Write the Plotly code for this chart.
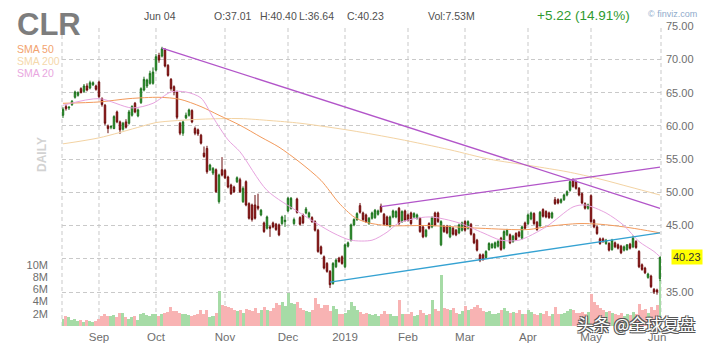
import pandas as pd
import plotly.graph_objects as go

# ---------------- data ----------------
holidays = ["2018-09-03", "2018-11-22", "2018-12-05", "2018-12-25", "2019-01-01",
            "2019-01-21", "2019-02-18", "2019-04-19", "2019-05-27"]
days = [d.strftime("%Y-%m-%d") for d in pd.bdate_range("2018-08-16", "2019-06-04")
        if d.strftime("%Y-%m-%d") not in holidays]

opens = [61.6, 62.9, 62.7, 63.2, 64.3, 64.6, 65.6, 65.2, 66.0, 65.7, 66.2, 66.0,
         66.6, 64.1, 63.1, 60.0, 59.8, 59.6, 62.1, 60.6, 59.5, 60.6, 60.4, 61.6, 63.4, 61.5,
         63.5, 65.4, 66.0, 66.4, 66.4, 68.4, 70.6, 70.5, 71.4, 69.1, 67.0, 65.9, 65.1, 60.4,
         58.9, 61.2, 61.6, 62.3, 59.6, 59.4, 58.6, 55.9, 56.6, 53.4, 52.9, 53.4, 48.6, 53.4,
         53.3, 52.3, 51.1, 50.8, 51.6, 51.9, 48.6, 51.6, 48.3, 48.1, 48.1, 47.9, 46.6, 45.4,
         44.6, 44.8, 45.4, 45.2, 45.1, 45.3, 45.6, 47.2, 47.6, 45.3, 49.0, 46.2, 46.6, 46.9,
         46.3, 46.2, 45.6, 44.3, 41.8, 40.3, 39.3, 38.1, 36.3, 38.8, 40.1, 40.3, 38.8, 41.9,
         42.8, 45.1, 45.9, 48.0, 46.9, 46.6, 45.3, 46.1, 46.2, 46.7, 47.9, 46.7, 46.3, 44.9,
         46.3, 46.3, 47.6, 45.6, 47.2, 46.6, 46.9, 46.3, 46.1, 46.1, 44.8, 43.4, 45.3, 44.8,
         46.9, 46.9, 42.1, 44.9, 44.9, 43.3, 44.6, 44.3, 43.9, 44.3, 45.6, 44.6, 45.2, 43.7,
         42.8, 40.6, 40.6, 40.2, 41.4, 41.7, 41.7, 41.9, 43.1, 41.6, 43.6, 43.6, 42.6, 43.8,
         44.0, 43.1, 45.4, 45.3, 46.0, 46.8, 45.5, 45.0, 47.4, 47.1, 46.9, 46.2, 48.9, 48.9,
         48.5, 48.9, 49.6, 50.3, 51.8, 51.6, 50.6, 49.8, 48.3, 47.6, 49.5, 45.8, 44.8, 43.0,
         43.0, 42.3, 42.3, 41.4, 42.4, 42.1, 41.9, 41.3, 41.4, 42.2, 41.8, 42.6, 41.1, 39.1,
         38.6, 37.2, 37.4, 35.4, 35.3, 37.01]
highs = [62.8, 63.2, 63.0, 63.9, 65.3, 65.2, 65.8, 66.3, 66.4, 66.8, 66.7, 66.2,
         66.8, 64.3, 63.3, 60.2, 60.1, 61.6, 62.3, 60.8, 60.6, 61.0, 62.4, 63.1, 63.6, 62.6,
         65.8, 67.4, 67.1, 68.3, 68.8, 70.8, 71.0, 71.9, 71.7, 69.3, 67.2, 66.1, 65.3, 60.6,
         60.8, 62.0, 62.6, 62.5, 59.9, 59.6, 58.8, 56.9, 57.0, 54.3, 53.8, 53.6, 52.8, 55.3,
         53.5, 52.5, 51.3, 51.0, 52.4, 52.2, 50.9, 51.8, 48.5, 48.3, 49.6, 49.8, 47.5, 45.6,
         46.5, 45.1, 45.6, 45.4, 45.3, 46.5, 46.6, 49.3, 49.3, 46.2, 49.2, 46.4, 46.8, 47.8,
         47.1, 46.4, 45.8, 44.5, 42.0, 40.5, 39.5, 38.3, 39.5, 40.0, 40.3, 40.5, 42.3, 42.6,
         45.3, 46.1, 47.0, 48.4, 47.1, 46.8, 46.3, 47.1, 47.5, 47.4, 48.3, 46.9, 46.5, 46.5,
         47.4, 47.3, 47.8, 47.3, 47.4, 46.8, 47.1, 47.0, 46.8, 46.3, 45.0, 44.5, 45.5, 46.4,
         47.1, 47.1, 45.8, 45.1, 45.1, 45.0, 44.8, 44.5, 45.3, 45.6, 45.8, 45.8, 45.4, 43.9,
         43.0, 40.8, 40.8, 41.3, 42.5, 42.4, 42.6, 42.8, 43.3, 44.3, 44.5, 43.8, 43.6, 44.0,
         44.2, 45.0, 45.6, 46.8, 47.1, 47.0, 45.7, 47.2, 47.6, 47.3, 47.1, 47.1, 49.3, 49.1,
         49.1, 49.8, 50.3, 51.8, 52.1, 51.8, 50.8, 50.0, 48.5, 48.3, 49.7, 46.0, 45.0, 43.2,
         43.2, 43.0, 42.5, 43.0, 42.6, 42.3, 42.1, 42.0, 42.2, 42.4, 43.5, 42.8, 41.3, 39.3,
         38.8, 37.9, 37.6, 35.6, 35.5, 40.40]
lows = [61.2, 62.3, 62.4, 63.0, 64.1, 64.4, 64.9, 65.0, 65.2, 65.5, 66.0, 65.3,
        64.2, 62.9, 60.1, 58.9, 59.5, 59.5, 60.4, 58.8, 59.3, 59.6, 60.2, 61.4, 61.9, 61.3,
        63.3, 65.2, 65.7, 66.2, 66.2, 68.2, 69.5, 70.3, 68.8, 67.4, 65.3, 64.6, 61.0, 58.6,
        58.5, 61.0, 61.4, 60.4, 58.6, 58.5, 57.2, 55.2, 52.8, 53.2, 52.6, 49.9, 48.3, 52.4,
        52.0, 50.6, 49.6, 49.9, 51.4, 49.9, 48.4, 47.9, 45.9, 45.6, 45.9, 47.3, 46.4, 43.9,
        44.4, 43.3, 44.6, 44.2, 43.4, 45.1, 44.8, 47.0, 47.4, 45.1, 46.8, 45.0, 45.2, 46.7,
        46.1, 45.4, 44.1, 40.9, 40.6, 38.4, 37.9, 35.6, 36.1, 38.6, 39.4, 39.1, 38.6, 41.7,
        42.6, 44.9, 45.7, 46.8, 45.7, 45.4, 45.1, 45.9, 46.0, 46.5, 46.9, 45.0, 44.9, 44.7,
        46.1, 46.1, 45.1, 45.4, 45.6, 45.6, 45.1, 46.1, 45.9, 43.9, 43.1, 43.2, 44.4, 44.6,
        44.9, 45.4, 41.9, 43.9, 43.7, 43.1, 43.5, 43.4, 43.7, 44.1, 44.1, 44.4, 43.5, 42.2,
        41.1, 39.5, 39.7, 40.0, 41.2, 41.5, 41.5, 41.7, 41.2, 41.4, 43.4, 42.2, 42.4, 42.7,
        43.2, 42.9, 44.4, 45.1, 45.8, 45.1, 44.2, 44.8, 46.2, 46.1, 46.0, 46.0, 48.1, 48.2,
        48.3, 48.7, 49.4, 50.1, 50.7, 50.4, 49.4, 48.2, 47.4, 47.4, 45.4, 44.6, 43.6, 42.1,
        42.4, 42.1, 41.1, 41.2, 41.6, 41.4, 40.7, 41.1, 41.2, 41.4, 41.6, 41.5, 38.6, 38.2,
        37.7, 37.0, 35.6, 34.7, 34.6, 36.64]
closes = [62.5, 62.6, 62.8, 63.7, 65.1, 65.0, 65.0, 66.0, 65.4, 66.5, 66.5, 65.5,
          64.4, 63.2, 60.4, 59.6, 59.9, 61.4, 60.6, 59.4, 60.4, 59.8, 62.1, 62.9, 62.1, 62.4,
          65.6, 67.0, 66.9, 67.9, 68.1, 70.4, 69.9, 71.6, 69.0, 67.6, 65.6, 65.1, 61.3, 58.9,
          60.6, 61.6, 62.4, 60.6, 58.9, 58.8, 57.4, 55.4, 53.1, 54.1, 53.6, 50.1, 52.6, 52.6,
          52.2, 50.8, 49.8, 50.1, 52.2, 50.1, 50.6, 48.1, 46.1, 45.9, 46.1, 47.6, 47.3, 44.1,
          46.3, 44.6, 44.8, 44.4, 43.6, 46.3, 45.8, 49.1, 49.1, 45.9, 47.0, 45.2, 45.4, 47.5,
          46.9, 45.6, 44.3, 41.1, 40.8, 38.6, 38.1, 36.1, 39.3, 39.8, 39.6, 39.3, 42.1, 42.4,
          45.1, 45.9, 46.8, 47.0, 45.9, 45.6, 46.1, 46.9, 47.3, 47.2, 47.1, 45.2, 45.1, 46.3,
          47.2, 47.1, 45.3, 47.1, 45.8, 45.8, 45.3, 46.8, 46.6, 44.1, 43.3, 44.3, 44.6, 46.2,
          45.1, 45.6, 45.6, 44.1, 43.9, 44.8, 43.7, 43.6, 45.1, 45.4, 44.3, 45.6, 43.7, 42.4,
          41.3, 39.8, 39.9, 41.1, 42.3, 42.2, 42.4, 42.6, 41.4, 44.1, 44.3, 42.4, 43.4, 42.9,
          43.4, 44.8, 44.6, 46.6, 46.9, 45.3, 44.4, 47.0, 46.4, 46.3, 46.2, 46.9, 48.3, 48.4,
          48.9, 49.6, 50.1, 51.6, 50.9, 50.6, 49.6, 48.4, 47.6, 48.1, 45.6, 44.8, 43.8, 42.3,
          42.6, 42.8, 41.3, 42.8, 41.8, 41.6, 40.9, 41.8, 42.1, 41.6, 43.1, 41.7, 38.8, 38.4,
          37.9, 37.7, 35.8, 35.0, 35.01, 40.23]
volumes_m = [1.1, 1.7, 1.4, 1.0, 1.1, 0.8, 1.0, 0.7, 1.0, 0.9, 0.6, 0.9,
             1.2, 1.6, 2.0, 1.7, 1.6, 1.8, 1.5, 2.1, 2.2, 1.4, 1.1, 1.4, 1.6, 1.0, 1.9, 2.2,
             1.8, 1.6, 1.9,
             1.9, 1.6, 2.0, 2.2, 2.3, 3.1, 2.5, 2.4, 2.2, 1.9, 2.0, 1.8, 1.6, 1.8, 1.9, 2.6,
             2.0, 2.7, 1.5, 1.7, 2.1, 5.8, 3.5,
             3.3, 3.1, 2.9, 2.6, 2.4, 2.6, 2.2, 2.8, 2.6, 2.4, 2.9, 2.2, 2.7, 3.1, 2.6, 2.4,
             2.9, 3.8, 3.5, 3.9, 3.3,
             5.4, 3.8, 3.6, 3.9, 3.0, 2.6, 2.4, 2.3, 2.6, 4.6, 3.6, 3.0, 3.4, 3.5, 2.5, 3.2,
             2.8, 2.0, 1.9,
             2.2, 2.6, 3.9, 3.2, 2.7, 2.3, 2.0, 2.2, 2.0, 1.8, 1.9, 1.6, 2.0, 2.4, 2.0, 1.9,
             1.6, 1.7, 4.2, 2.0, 1.9,
             2.0, 2.3, 1.7, 1.8, 2.6, 2.2, 1.8, 2.0, 4.2, 2.8, 2.5, 8.4, 3.0, 2.8, 2.7, 2.9,
             2.2, 2.0, 2.5,
             3.3, 2.6, 2.8, 3.1, 3.4, 3.0, 2.5, 2.3, 2.4, 2.0, 1.9, 2.1, 2.6, 3.0, 2.4, 2.1,
             2.3, 2.2, 2.6, 2.0, 1.9,
             2.7, 2.3, 2.0, 1.8, 2.2, 1.9, 2.4, 1.7, 1.9, 3.1, 2.0, 1.9, 2.1, 2.4, 2.8, 2.6,
             2.1, 2.2, 2.3, 2.0, 2.3,
             5.3, 4.0, 3.4, 3.0, 2.6, 2.3, 2.5, 2.2, 2.0, 1.8, 2.1, 1.7, 1.9, 1.8, 2.3, 2.0,
             3.6, 2.6, 2.8, 2.2, 3.1, 2.6, 3.4, 7.53]

# moving averages at sample positions (index into days)
sma50_pos = [0, 12, 22, 32, 39, 46, 52, 59, 66, 72, 79, 86, 92, 97, 101, 108, 122, 139, 155, 162, 172, 179, 187, 194, 199]
sma50_val = [63.4, 63.6, 64.1, 64.3, 64.0, 62.9, 61.6, 60.1, 58.3, 56.8, 54.5, 51.8, 48.4, 46.3, 45.5, 45.0, 45.0, 44.6, 44.4, 44.9, 45.3, 45.2, 44.8, 44.3, 43.9]
sma200_pos = [0, 12, 26, 31, 46, 59, 69, 79, 96, 112, 129, 142, 156, 168, 179, 189, 199]
sma200_val = [57.3, 58.2, 59.9, 60.5, 61.0, 61.1, 60.8, 60.4, 59.3, 58.0, 56.4, 55.0, 54.0, 53.1, 52.0, 50.8, 49.6]
sma20_pos = [0, 12, 23, 30, 36, 41, 46, 50, 55, 59, 68, 79, 90, 96, 103, 108, 112, 122, 132, 140, 146, 152, 161, 170, 174, 181, 187, 192, 197, 199]
sma20_val = [63.1, 64.1, 62.7, 63.4, 65.1, 65.1, 64.2, 61.3, 57.9, 56.1, 50.3, 46.9, 43.9, 42.8, 42.8, 44.0, 45.4, 46.3, 45.4, 43.9, 42.8, 42.8, 44.8, 47.8, 48.1, 46.9, 45.0, 42.6, 41.1, 40.3]

# trend lines: (start position, start price, end position, end price)
trend_colors = ["#b255c9", "#b255c9", "#35a2d2"]
trend_start_pos = [33, 106, 89]
trend_start_val = [71.7, 47.85, 36.5]
trend_end_pos = [199, 199, 199]
trend_end_val = [47.6, 53.8, 43.9]

tick_days = ["2018-09-04", "2018-10-01", "2018-11-01", "2018-12-03", "2019-01-02",
             "2019-02-01", "2019-03-01", "2019-04-01", "2019-05-01", "2019-06-03"]
tick_labels = ["Sep", "Oct", "Nov", "Dec", "2019", "Feb", "Mar", "Apr", "May", "Jun"]
price_ticks = [35, 40, 45, 50, 55, 60, 65, 70, 75]
price_labels = ["35.00", "", "45.00", "50.00", "55.00", "60.00", "65.00", "70.00", "75.00"]
vol_ticks = [2, 4, 6, 8, 10]
vol_labels = ["2M", "4M", "6M", "8M", "10M"]

# ---------------- layout helpers ----------------
W, H = 711, 346
ML, MR, MT, MB = 62, 50, 26, 20
PW, PH = W - ML - MR, H - MT - MB


def px(x):
    return (x - ML) / PW


def py(y):
    return (H - MB - y) / PH


FONT = "Liberation Sans, Arial, sans-serif"
GRID = "#c9c9c9"

fig = go.Figure()

bar_colors = ["#a6dba6" if c >= o else "#f8b3b3" for o, c in zip(opens, closes)]
fig.add_trace(go.Bar(x=days, y=volumes_m, marker=dict(color=bar_colors, line=dict(width=0)),
                     yaxis="y", showlegend=False, hoverinfo="skip"))

for pos, val, col in [(sma200_pos, sma200_val, "#f3d3a3"),
                      (sma50_pos, sma50_val, "#f29a5c"),
                      (sma20_pos, sma20_val, "#e7a3df")]:
    fig.add_trace(go.Scatter(x=[days[p] for p in pos], y=val, mode="lines",
                             line=dict(color=col, width=1, shape="spline", smoothing=0.8),
                             yaxis="y2", showlegend=False, hoverinfo="skip"))

for c, sp, sv, ep, ev in zip(trend_colors, trend_start_pos, trend_start_val, trend_end_pos, trend_end_val):
    fig.add_trace(go.Scatter(x=[days[sp], days[ep]], y=[sv, ev], mode="lines",
                             line=dict(color=c, width=1.3), yaxis="y2",
                             showlegend=False, hoverinfo="skip"))

fig.add_trace(go.Candlestick(x=days, open=opens, high=highs, low=lows, close=closes,
                             yaxis="y2", showlegend=False, whiskerwidth=0,
                             increasing=dict(fillcolor="#34c034", line=dict(color="#1d6e1d", width=1)),
                             decreasing=dict(fillcolor="#c11818", line=dict(color="#6a0c0c", width=1))))

shapes = []
for t in tick_days[:-1]:
    i = days.index(t)
    shapes.append(dict(type="line", xref="x", yref="paper", x0=i, x1=i, y0=0, y1=1,
                       line=dict(color=GRID, width=1, dash="4px,3px"), layer="below"))
for xe in (0, 1):
    shapes.append(dict(type="line", xref="paper", yref="paper", x0=xe, x1=xe, y0=0, y1=1,
                       line=dict(color=GRID, width=1, dash="4px,3px"), layer="below"))

ann = []
ann.append(dict(text="<b>CLR</b>", x=px(49), y=py(24), font=dict(size=31, color="#7d7d7d", family=FONT)))
ann.append(dict(text="Jun 04", x=px(160), y=py(16), font=dict(size=10.5, color="#505050", family=FONT)))
for t, x0 in [("O:37.01", 212), ("H:40.40", 258), ("L:36.64", 297), ("C:40.23", 345), ("Vol:7.53M", 426)]:
    ann.append(dict(text=t, x=px(x0), y=py(16), xanchor="left", font=dict(size=10.5, color="#505050", family=FONT)))
ann.append(dict(text="+5.22 (14.91%)", x=px(535), y=py(15), xanchor="left",
                font=dict(size=13.5, color="#2f9a2f", family=FONT)))
ann.append(dict(text="© finviz.com", x=px(646), y=py(14), xanchor="left",
                font=dict(size=9, color="#8eaacb", family=FONT)))
for t, yy, col in [("SMA 50", 49, "#f2a26e"), ("SMA 200", 61, "#f5d8ab"), ("SMA 20", 73, "#e9a7e0")]:
    ann.append(dict(text=t, x=px(15), y=py(yy), xanchor="left", font=dict(size=10.5, color=col, family=FONT)))
ann.append(dict(text="<b>DAILY</b>", x=px(42), y=py(155), textangle=-90,
                font=dict(size=12, color="#d2d2d2", family=FONT)))
ann.append(dict(text=f"{closes[-1]:.2f}", xref="paper", yref="y2", x=px(671), y=closes[-1],
                xanchor="left", bgcolor="#ffff00", borderpad=1,
                font=dict(size=11, color="#333333", family=FONT)))
ann.append(dict(text="头条 @全球复盘", x=px(636), y=py(324),
                font=dict(size=16.5, color="#ffffff", family="Noto Sans CJK SC",
                          shadow="-1px -1px 0 #555, 1px -1px 0 #555, -1px 1px 0 #555, 1px 1px 0 #555")))
for a in ann:
    a.setdefault("xref", "paper")
    a.setdefault("yref", "paper")
    a.setdefault("yanchor", "middle")
    a.setdefault("xanchor", "center")
    a["showarrow"] = False

fig.update_layout(
    width=W, height=H, margin=dict(l=ML, r=MR, t=MT, b=MB, autoexpand=False),
    paper_bgcolor="white", plot_bgcolor="white",
    bargap=0, showlegend=False, hovermode=False,
    font=dict(family=FONT, color="#6e6e6e", size=11),
    xaxis=dict(type="category", categoryorder="array", categoryarray=days,
               range=[-0.33, 199.33], rangeslider=dict(visible=False), automargin=False,
               showgrid=False, zeroline=False, showline=False, ticks="",
               tickvals=tick_days, ticktext=tick_labels, ticklabelstandoff=2,
               tickfont=dict(size=11.5, color="#6e6e6e")),
    yaxis=dict(range=[0, PH / 6.1], tickvals=vol_ticks, ticktext=vol_labels, side="left",
               showgrid=False, zeroline=False, showline=False, ticks="", automargin=False,
               ticklabelstandoff=13, tickfont=dict(size=11, color="#6e6e6e")),
    yaxis2=dict(range=[75 - PH / 6.65, 75.03], overlaying="y", side="right",
                tickvals=price_ticks, ticktext=price_labels, automargin=False,
                showgrid=True, gridcolor=GRID, griddash="4px,3px", gridwidth=1,
                zeroline=False, showline=False, ticks="", ticklabelstandoff=4,
                tickfont=dict(size=11, color="#6e6e6e")),
    shapes=shapes, annotations=ann,
)

fig.write_html("out.html", config=dict(displayModeBar=False))
